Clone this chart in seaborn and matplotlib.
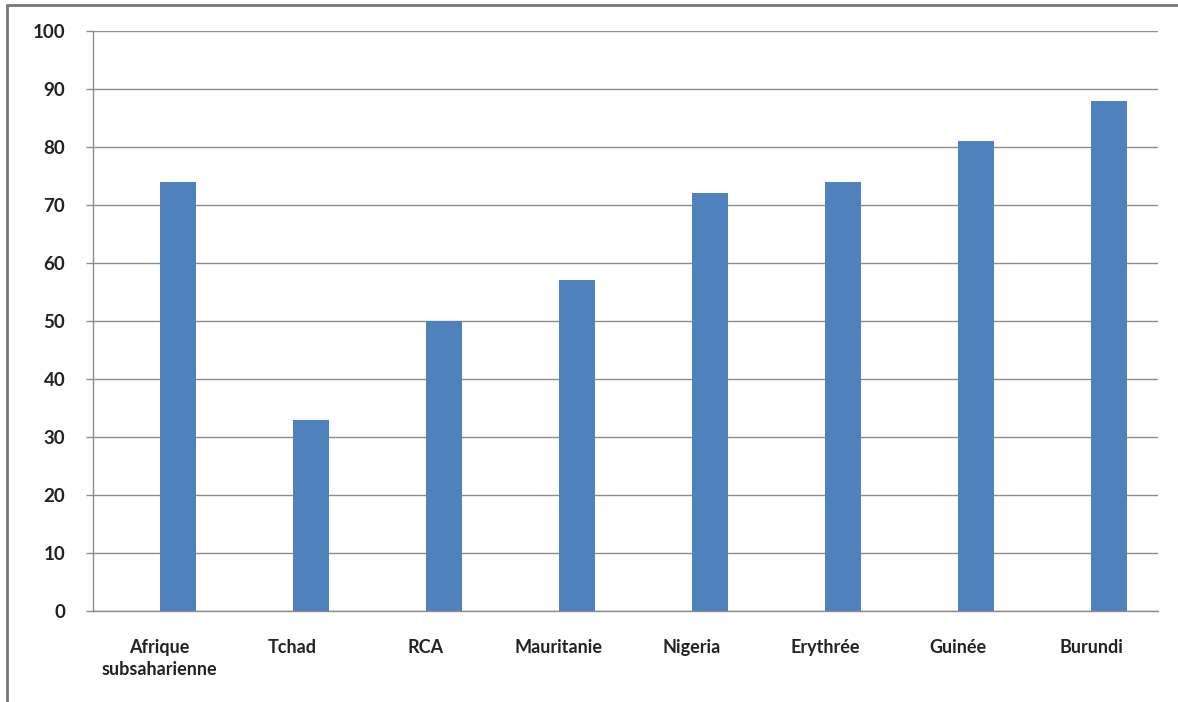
import pandas as pd
import matplotlib.pyplot as plt
import seaborn as sns
from matplotlib.lines import Line2D

pays = ["Afrique\nsubsaharienne", "Tchad", "RCA", "Mauritanie",
        "Nigeria", "Erythrée", "Guinée", "Burundi"]
serie_vide = [0, 0, 0, 0, 0, 0, 0, 0]
valeurs = [74, 33, 50, 57, 72, 74, 81, 88]
yticks = [0, 10, 20, 30, 40, 50, 60, 70, 80, 90, 100]

df = pd.DataFrame({
    "pays": pays * 2,
    "serie": ["vide"] * len(pays) + ["valeur"] * len(pays),
    "pct": serie_vide + valeurs,
})

sns.set_style("white")
plt.rcParams["font.family"] = ["Lato", "DejaVu Sans"]

fig = plt.figure(figsize=(11.78, 7.02), dpi=100)
ax = fig.add_axes([93 / 1178, 1 - 611 / 702, (1158 - 93) / 1178, (611 - 31) / 702])

sns.barplot(data=df, x="pays", y="pct", hue="serie", hue_order=["vide", "valeur"],
            order=pays, palette=["#4F81BD", "#4F81BD"], saturation=1, width=0.54,
            linewidth=0, legend=False, ax=ax)

ax.set_ylim(0, 100)
ax.set_xlim(-0.5, len(pays) - 0.5)
ax.set_yticks(yticks)
ax.set_yticklabels([str(v) for v in yticks], fontsize=13.5, fontweight="bold", color="#222222")
ax.yaxis.grid(True, color="#8c8c8c", linewidth=1)
ax.set_axisbelow(True)

ax.set_xticks(range(len(pays)))
ax.set_xticklabels(pays, fontsize=13, fontweight="bold", color="#222222", linespacing=1.35)
ax.set_xticks([i - 0.5 for i in range(len(pays) + 1)], minor=True)
ax.tick_params(axis="x", which="major", length=0, pad=20)
ax.tick_params(axis="x", which="minor", length=5, color="#8c8c8c", width=1)
ax.tick_params(axis="y", length=5, color="#8c8c8c", width=1, pad=15, left=True)

ax.set_xlabel("")
ax.set_ylabel("")
for s in ["top", "right"]:
    ax.spines[s].set_visible(False)
for s in ["left", "bottom"]:
    ax.spines[s].set_color("#8c8c8c")
    ax.spines[s].set_linewidth(1)

# cadre du graphique
fig.add_artist(Line2D([7 / 1178, 1], [1 - 5 / 702, 1 - 5 / 702], color="#777777", linewidth=2))
fig.add_artist(Line2D([7 / 1178, 7 / 1178], [0, 1 - 5 / 702], color="#777777", linewidth=2))

fig.savefig("out.png", dpi=100)
